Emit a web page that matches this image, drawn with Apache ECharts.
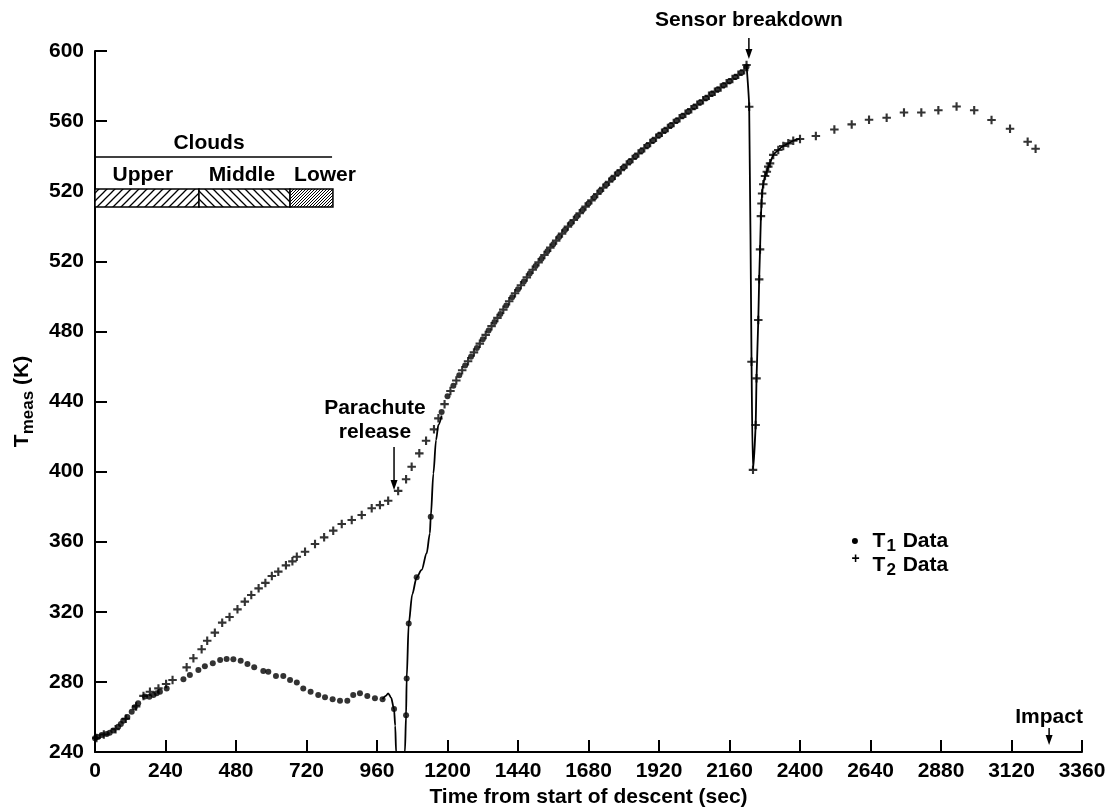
<!DOCTYPE html>
<html>
<head>
<meta charset="utf-8">
<script src="https://cdn.jsdelivr.net/npm/echarts@6/dist/echarts.min.js"></script>
<style>
  html, body { margin: 0; padding: 0; background: #fff; }
  #main { width: 1116px; height: 810px; }
</style>
</head>
<body>
<div id="main"></div>
<script>
// y axis is drawn linearly 240..640, the printed labels are kept as in the original figure
const yTickLabels = ['240', '280', '320', '360', '400', '440', '480', '520', '520', '560', '600'];

// T1 dots [time s, T]
const t1Dots = [
  [0, 247.8], [10, 248.5], [23, 249.7], [40, 250.3], [50, 251], [62, 252.2], [79, 254.4], [88, 256],
  [96, 257.9], [110, 260], [125, 263], [135, 265.5], [147, 267.8], [170, 271.6], [185, 271.5], [199, 272.5],
  [210, 273.5], [221, 274.4], [244, 276.3], [301, 281.5], [323, 284], [352, 286.8], [374, 289], [401, 290.6],
  [426, 292.5], [448, 293], [471, 292.9], [496, 292.1], [519, 290.2], [542, 288.3], [573, 286.2], [590, 285.8],
  [616, 283.4], [641, 283.4], [664, 281.1], [687, 279.6], [709, 276.3], [734, 274.4], [760, 272.5], [783, 271.2],
  [809, 270.1], [834, 269.3], [859, 269.3], [879, 272.5], [902, 273.5], [927, 272], [953, 270.6], [979, 270.1],
  [1018, 264.5], [1059, 261], [1061, 282], [1068, 313.3], [1095, 339.7], [1143, 374.3],
  [1180, 434], [1200, 443], [1220, 449], [1240, 455], [1260, 460.5], [1280, 465.5], [1300, 470.5], [1320, 475.5],
  [1340, 480.5], [1360, 485.3], [1380, 490], [1400, 494.8], [1420, 499.5], [1440, 504], [1460, 508.5], [1480, 513],
  [1500, 517.3], [1520, 521.5], [1540, 525.7], [1560, 529.8], [1580, 533.8], [1600, 537.8], [1620, 541.7], [1640, 545.5],
  [1660, 549.3], [1680, 553], [1700, 556.6], [1720, 560.2], [1740, 563.7], [1760, 567.1], [1780, 570.4], [1800, 573.6],
  [1820, 576.8], [1840, 579.9], [1860, 583], [1880, 586], [1900, 589], [1920, 591.9], [1940, 594.7], [1960, 597.5],
  [1980, 600.2], [2000, 602.9], [2020, 605.5], [2040, 608.1], [2060, 610.6], [2080, 613.1], [2100, 615.6], [2120, 618],
  [2140, 620.4], [2160, 622.8], [2180, 625.2], [2200, 627.6], [2218, 631]
];

// T1 trace drawn as a line around parachute release
const t1Curve = [
  [979, 270.1], [990, 272], [998, 273.5], [1008, 271], [1018, 264.5], [1022, 255], [1025, 240],
  [1055, 240], [1059, 261], [1061, 282], [1068, 313.3], [1080, 330], [1095, 339.7], [1112, 343.9],
  [1129, 353.4], [1140, 364.8], [1143, 374.3], [1152, 399], [1161, 418], [1169, 426.6], [1180, 432]
];

// T2 crosses [time s, T]
const t2Marks = [
  [5, 248], [30, 250], [70, 253], [105, 259], [140, 266],
  [165, 272], [187, 274.4], [216, 276.3], [242, 278.8], [264, 281.1], [312, 288.3], [335, 293.5], [363, 298.6],
  [382, 303.5], [408, 308.1], [433, 313.8], [458, 317], [485, 321.4], [510, 325.8], [532, 329.6], [557, 333.4],
  [580, 336.5], [602, 340.4], [624, 342.9], [650, 346.5], [672, 348.8], [687, 351.4], [715, 354.3], [749, 358.7],
  [780, 362.5], [811, 366.3], [840, 370.1], [874, 372.4], [908, 375.2], [942, 379.1], [970, 380.9], [998, 383.4],
  [1032, 389], [1059, 395.6], [1078, 402.8], [1104, 410.4], [1127, 417.6], [1154, 424.1], [1169, 430.4],
  [1190, 438.5], [1210, 446], [1230, 452], [1250, 457.8], [1270, 463], [1290, 468], [1310, 473], [1330, 478],
  [1350, 483], [1370, 487.7], [1390, 492.4], [1410, 497.2], [1430, 501.8], [1450, 506.3], [1470, 510.8], [1490, 515.2],
  [1510, 519.4], [1530, 523.6], [1550, 527.8], [1570, 531.8], [1590, 535.8], [1610, 539.8], [1630, 543.6], [1650, 547.4],
  [1670, 551.2], [1690, 554.8], [1710, 558.4], [1730, 562], [1750, 565.4], [1770, 568.8], [1790, 572], [1810, 575.2],
  [1830, 578.4], [1850, 581.5], [1870, 584.5], [1890, 587.5], [1910, 590.5], [1930, 593.3], [1950, 596.1], [1970, 598.9],
  [1990, 601.6], [2010, 604.2], [2030, 606.8], [2050, 609.4], [2070, 611.9], [2090, 614.4], [2110, 616.8], [2130, 619.2],
  [2150, 621.6], [2170, 624], [2190, 626.4], [2210, 629], [2218, 632],
  [2454, 591.5], [2517, 595.2], [2576, 598.1], [2635, 600.8], [2695, 601.9], [2754, 604.9], [2813, 604.9],
  [2871, 606.2], [2933, 608.3], [2993, 606.2], [3052, 600.6], [3115, 595.6], [3175, 588.2], [3202, 584.2]
];

// T2 trace through the sensor breakdown dip
const t2Curve = [
  [2218, 632], [2227, 608.2], [2235, 462.7], [2240, 401], [2249, 426.6], [2252, 453.2], [2258, 486.5],
  [2261, 509.7], [2264, 526.8], [2267, 545.8], [2269, 553], [2271, 558.7], [2275, 564], [2281, 568.7],
  [2287, 571.1], [2292, 574], [2298, 575.9], [2309, 580.7], [2326, 583.5], [2343, 585.8], [2360, 587.3],
  [2377, 588.8], [2400, 589.8]
];

// cloud layers: [start s, end s]
const cloudNames = ['Upper', 'Middle', 'Lower'];
const cloudStart = [0, 354, 664];
const cloudEnd = [354, 664, 810];

const FONT = '"Liberation Sans", Arial, sans-serif';
const FS = 21;
const plusPath = 'path://M3,0H5V3H8V5H5V8H3V5H0V3H3Z';

function hatch(size, back) {
  const c = document.createElement('canvas');
  c.width = size; c.height = size;
  const g = c.getContext('2d');
  g.fillStyle = '#fff';
  g.fillRect(0, 0, size, size);
  g.strokeStyle = '#000';
  g.lineWidth = size > 4 ? 1.3 : 1;
  g.beginPath();
  if (back) {
    g.moveTo(-1, -1); g.lineTo(size + 1, size + 1);
    g.moveTo(-1, size - 1); g.lineTo(1, size + 1);
    g.moveTo(size - 1, -1); g.lineTo(size + 1, 1);
  } else {
    g.moveTo(-1, size + 1); g.lineTo(size + 1, -1);
    g.moveTo(-1, 1); g.lineTo(1, -1);
    g.moveTo(size - 1, size + 1); g.lineTo(size + 1, size - 1);
  }
  g.stroke();
  return c;
}
const patterns = [hatch(8, false), hatch(8, true), hatch(3, false)];

const chart = echarts.init(document.getElementById('main'), null, { renderer: 'canvas' });

const option = {
  backgroundColor: '#fff',
  animation: false,
  grid: { left: 95, right: 34, top: 51, bottom: 58, containLabel: false, outerBoundsMode: 'none' },
  xAxis: {
    type: 'value', min: 0, max: 3360, interval: 240,
    name: 'Time from start of descent (sec)',
    nameLocation: 'middle', nameGap: 35,
    nameTextStyle: { fontFamily: FONT, fontWeight: 'bold', fontSize: FS, color: '#000' },
    axisLine: { lineStyle: { color: '#000', width: 2 } },
    axisTick: { inside: true, length: 12, lineStyle: { color: '#000', width: 2 } },
    axisLabel: {
      fontFamily: FONT, fontWeight: 'bold', fontSize: FS, color: '#000', margin: 9,
      formatter: v => String(v)
    },
    splitLine: { show: false }
  },
  yAxis: {
    type: 'value', min: 240, max: 640, interval: 40,
    name: '{m|T}{s|meas}{m| (K)}',
    nameLocation: 'middle', nameGap: 58, nameRotate: 90,
    nameTextStyle: {
      fontFamily: FONT, fontWeight: 'bold', color: '#000',
      rich: {
        m: { fontFamily: FONT, fontWeight: 'bold', fontSize: FS, color: '#000', verticalAlign: 'top' },
        s: { fontFamily: FONT, fontWeight: 'bold', fontSize: 17, color: '#000', verticalAlign: 'top', padding: [8, 0, 0, 0] }
      }
    },
    axisLine: { lineStyle: { color: '#000', width: 2 } },
    axisTick: { inside: true, length: 12, lineStyle: { color: '#000', width: 2 } },
    axisLabel: {
      fontFamily: FONT, fontWeight: 'bold', fontSize: FS, color: '#000', margin: 11,
      formatter: v => yTickLabels[Math.round((v - 240) / 40)]
    },
    splitLine: { show: false }
  },
  series: [
    {
      name: 'clouds', type: 'custom', clip: false, silent: true, z: 10,
      data: cloudStart.map((s, i) => [s, cloudEnd[i], i]),
      renderItem: (params, api) => {
        const a = api.coord([api.value(0), 561.2]);
        const b = api.coord([api.value(1), 551]);
        return {
          type: 'rect',
          shape: { x: a[0], y: a[1], width: b[0] - a[0], height: b[1] - a[1] },
          style: {
            fill: { type: 'pattern', image: patterns[api.value(2)], repeat: 'repeat' },
            stroke: '#000', lineWidth: 1.5
          }
        };
      }
    },
    {
      name: 'T1 curve', type: 'line', data: t1Curve, smooth: 0.3, smoothMonotone: 'x',
      showSymbol: false, lineStyle: { color: '#000', width: 1.8 }, silent: true
    },
    {
      name: 'T2 curve', type: 'line', data: t2Curve, smooth: 0.2,
      showSymbol: false, lineStyle: { color: '#000', width: 1.8 }, silent: true
    },
    {
      name: 'T1 Data', type: 'scatter', data: t1Dots, symbol: 'circle', symbolSize: 6,
      itemStyle: { color: '#000' }
    },
    {
      name: 'T2 Data', type: 'scatter', data: t2Marks.concat(t2Curve.slice(1)), symbol: plusPath, symbolSize: 8.5,
      itemStyle: { color: '#000' }
    }
  ]
};
chart.setOption(option);

// annotations placed from data coordinates
function px(t, T) { return chart.convertToPixel({ gridIndex: 0 }, [t, T]); }
function txt(t, T, text, size, align) {
  const p = px(t, T);
  return {
    type: 'text', x: p[0], y: p[1], silent: true,
    style: {
      text: text, fontFamily: FONT, fontWeight: 'bold', fontSize: size || FS, fill: '#000',
      align: align || 'center', verticalAlign: 'middle'
    }
  };
}
function arrow(t, from, to) {
  const a = px(t, from), b = px(t, to);
  return [
    { type: 'line', silent: true, shape: { x1: a[0], y1: a[1], x2: b[0], y2: b[1] - 6 }, style: { stroke: '#000', lineWidth: 1.5 } },
    { type: 'polygon', silent: true, shape: { points: [[b[0] - 3.5, b[1] - 10], [b[0] + 3.5, b[1] - 10], [b[0], b[1]]] }, style: { fill: '#000' } }
  ];
}

const g = [];
g.push(txt(2226, 657.7, 'Sensor breakdown'));
g.push(...arrow(2226, 647.4, 635.5));
g.push(txt(953, 436.3, 'Parachute'));
g.push(txt(953, 422.6, 'release'));
g.push(...arrow(1018, 414, 389.5));
g.push(txt(3248, 260, 'Impact'));
g.push(...arrow(3248, 253.7, 244));
// clouds header
g.push(txt(388, 587.5, 'Clouds'));
const l0 = px(0, 579.5), l1 = px(807, 579.5);
g.push({ type: 'line', silent: true, shape: { x1: l0[0], y1: l0[1], x2: l1[0], y2: l1[1] }, style: { stroke: '#000', lineWidth: 1.5 } });
const cloudLabelAt = [163, 500, 783];
cloudNames.forEach((n, i) => g.push(txt(cloudLabelAt[i], 569.2, n)));
// legend
const d1 = px(2587, 360.4), d2 = px(2587, 346.7);
g.push({ type: 'circle', silent: true, shape: { cx: d1[0], cy: d1[1], r: 3 }, style: { fill: '#000' } });
g.push({ type: 'text', silent: true, x: d2[0] - 3.5, y: d2[1] - 6, style: { text: '+', fontFamily: FONT, fontWeight: 'bold', fontSize: 14, fill: '#000', align: 'left', verticalAlign: 'middle' } });
['1', '2'].forEach((k, i) => {
  const p = px(2647, i === 0 ? 360.4 : 346.7);
  g.push({
    type: 'text', silent: true, x: p[0], y: p[1] - 10,
    style: {
      text: '{m|T}{s|' + k + '}{m| Data}', fill: '#000',
      rich: {
        m: { fontFamily: FONT, fontWeight: 'bold', fontSize: FS, fill: '#000', verticalAlign: 'top' },
        s: { fontFamily: FONT, fontWeight: 'bold', fontSize: 17, fill: '#000', verticalAlign: 'top', padding: [7, 1, 0, 1] }
      },
      align: 'left', verticalAlign: 'top'
    }
  });
});
chart.setOption({ graphic: g });
</script>
</body>
</html>
